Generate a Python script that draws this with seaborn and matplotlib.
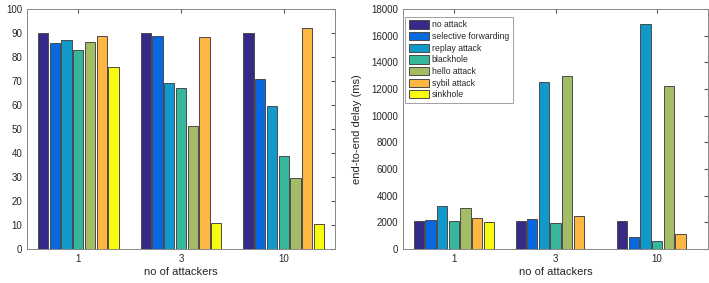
import numpy as np
import pandas as pd
import matplotlib
matplotlib.use("Agg")
import matplotlib.pyplot as plt
import seaborn as sns

# data
attackers = ["1", "3", "10"]
attacks = ["no attack", "selective forwarding", "replay attack", "blackhole",
           "hello attack", "sybil attack", "sinkhole"]
colors = ["#352A87", "#0868E0", "#1199CC", "#35B79B", "#A3BC66", "#FDB742", "#F9FB0E"]

pdr_no_attack = [90, 90, 90]
pdr_selective = [85.8, 88.6, 71]
pdr_replay = [87, 69, 59.5]
pdr_blackhole = [83, 67, 38.8]
pdr_hello = [86.3, 51.2, 29.6]
pdr_sybil = [88.8, 88.3, 92]
pdr_sinkhole = [76, 11, 10.5]

delay_no_attack = [2100, 2100, 2100]
delay_selective = [2150, 2230, 900]
delay_replay = [3250, 12550, 16850]
delay_blackhole = [2100, 1930, 600]
delay_hello = [3050, 13000, 12250]
delay_sybil = [2330, 2470, 1150]
delay_sinkhole = [2000, 0, 0]

pdr = [pdr_no_attack, pdr_selective, pdr_replay, pdr_blackhole, pdr_hello, pdr_sybil, pdr_sinkhole]
delay = [delay_no_attack, delay_selective, delay_replay, delay_blackhole, delay_hello, delay_sybil, delay_sinkhole]

rows = []
for a, p, d in zip(attacks, pdr, delay):
    for g, pv, dv in zip(attackers, p, d):
        rows.append({"attackers": g, "attack": a, "pdr": pv, "delay": dv})
df = pd.DataFrame(rows)

sns.set_style("white")
plt.rcParams['font.family'] = ['Liberation Sans', 'DejaVu Sans']
txt = "#262626"

fig = plt.figure(figsize=(7.09, 2.83), dpi=100)
ax1 = fig.add_axes([27/709, 34/283, 308/709, 240/283])
ax2 = fig.add_axes([403/709, 34/283, 305/709, 240/283])

for ax, col in [(ax1, "pdr"), (ax2, "delay")]:
    sns.barplot(data=df, x="attackers", y=col, hue="attack", hue_order=attacks,
                order=attackers, palette=colors, saturation=1, width=0.8, gap=0.12,
                edgecolor="#4a4a4a", linewidth=0.7, ax=ax, legend=(ax is ax2))
    ax.set_xlim(-0.5, 2.5)
    ax.tick_params(direction="in", top=True, right=True, length=3,
                   labelsize=7, colors="#555555", labelcolor=txt)
    for s in ax.spines.values():
        s.set_color("#888888")
        s.set_linewidth(0.7)
    ax.set_xlabel("no of attackers", fontsize=8, color=txt, labelpad=2)

ax1.set_ylim(0, 100)
ax1.set_yticks(np.arange(0, 101, 10))
ax1.set_ylabel("packet delivery ratio (%)", fontsize=8, color=txt)
ax1.yaxis.set_label_coords(-0.085, 0.5)

ax2.set_ylim(0, 18000)
ax2.set_yticks(np.arange(0, 18001, 2000))
ax2.set_ylabel("end-to-end delay (ms)", fontsize=8, color=txt)
ax2.yaxis.set_label_coords(-0.135, 0.5)

leg = ax2.legend(loc="upper left", bbox_to_anchor=(0.007, 0.967), fontsize=6.2,
                 frameon=True, fancybox=False, edgecolor="#888888",
                 handlelength=2.4, handleheight=1.1, labelspacing=0.3,
                 borderpad=0.4, handletextpad=0.3, borderaxespad=0)
leg.get_frame().set_linewidth(0.7)
for t in leg.get_texts():
    t.set_color(txt)

fig.savefig("out.png", dpi=100)
